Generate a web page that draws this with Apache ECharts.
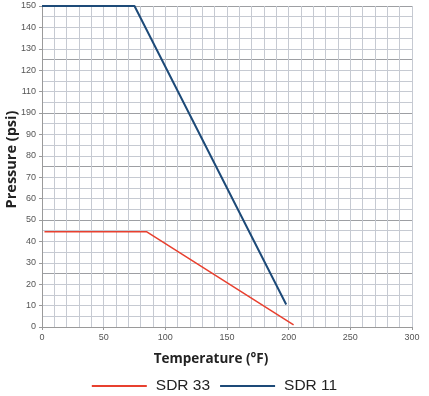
<!DOCTYPE html>
<html><head><meta charset="utf-8">
<script src="https://cdn.jsdelivr.net/npm/echarts@6/dist/echarts.min.js"></script>
<style>html,body{margin:0;padding:0;background:#fff}#c{width:429px;height:396px}</style>
</head><body><div id="c"></div>
<script>
var seriesNames = ['SDR 33', 'SDR 11'];
var sdr33 = [[2, 44.5], [85, 44.5], [204, 1]];
var sdr11 = [[0, 150], [75, 150], [198, 10.5]];
var yTickLabels = ['0','10','20','30','40','50','60','70','80','90','190','110','120','130','140','150'];
var xTickLabels = ['0','50','100','150','200','250','300'];

var chart = echarts.init(document.getElementById('c'));
var gridC = {left: 42, right: 17, top: 6, bottom: 69, containLabel: false, outerBoundsMode: 'none'};
chart.setOption({
  animation: false,
  grid: gridC,
  legend: {
    bottom: 2, left: 'center', padding: 0, itemWidth: 55, itemHeight: 2, icon: 'rect', itemGap: 10,
    textStyle: {fontFamily: 'Liberation Sans', fontSize: 15.5, color: '#222', padding: [0,0,0,4]},
    data: seriesNames
  },
  xAxis: [{
    type: 'value', min: 0, max: 300, interval: 50,
    name: 'Temperature (°F)', nameLocation: 'middle', nameGap: 25, nameMoveOverlap: false,
    nameTextStyle: {fontFamily: 'Open Sans', fontWeight: 'bold', fontSize: 13.5, color: '#222', padding: [0, 32, 0, 0]},
    axisLine: {show: true, onZero: false, lineStyle: {color: '#9a9a9a'}},
    axisTick: {show: true, length: 3, lineStyle: {color: '#9a9a9a'}},
    axisLabel: {fontFamily: 'Liberation Sans', fontSize: 9, color: '#555', margin: 6,
      formatter: function (v) { return xTickLabels[Math.round(v / 50)]; }},
    splitLine: {show: true, lineStyle: {color: '#c6cad2', width: 1}},
    minorTick: {show: false, splitNumber: 5},
    minorSplitLine: {show: true, lineStyle: {color: '#c6cad2', width: 1}}
  }],
  yAxis: [{
    type: 'value', min: 0, max: 150, interval: 10,
    name: 'Pressure (psi)', nameLocation: 'middle', nameGap: 23, nameRotate: 90, nameMoveOverlap: false,
    nameTextStyle: {fontFamily: 'Open Sans', fontWeight: 'bold', fontSize: 14.5, color: '#222', padding: [0, 0, 0, 14]},
    axisLine: {show: true, lineStyle: {color: '#9a9a9a'}},
    axisTick: {show: true, length: 3, lineStyle: {color: '#9a9a9a'}},
    axisLabel: {fontFamily: 'Liberation Sans', fontSize: 9, color: '#555', margin: 6,
      formatter: function (v) { return yTickLabels[Math.round(v / 10)]; }},
    splitLine: {show: false}
  }, {
    type: 'value', min: 0, max: 150, interval: 5, position: 'left',
    axisLine: {show: false}, axisTick: {show: false}, axisLabel: {show: false},
    splitLine: {show: true, lineStyle: {color: '#c6cad2', width: 1}}
  }, {
    type: 'value', min: 0, max: 150, interval: 25, position: 'left',
    axisLine: {show: false}, axisTick: {show: false}, axisLabel: {show: false},
    splitLine: {show: true, lineStyle: {color: '#9d9fa3', width: 1.2}}
  }],
  series: [{
    name: seriesNames[0], type: 'line', data: sdr33, showSymbol: false, symbol: 'none',
    lineStyle: {color: '#e8402f', width: 1.5}, itemStyle: {color: '#e8402f'}, z: 5
  }, {
    name: seriesNames[1], type: 'line', data: sdr11, showSymbol: false, symbol: 'none',
    lineStyle: {color: '#1d4a78', width: 2}, itemStyle: {color: '#1d4a78'}, z: 6
  }]
});
</script></body></html>
